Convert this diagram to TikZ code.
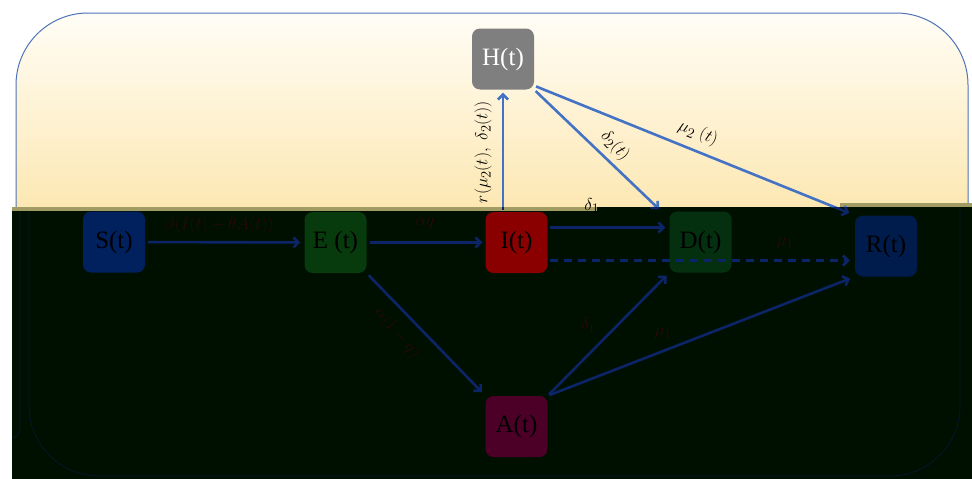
\documentclass[tikz,border=0pt]{standalone}
\usepackage{fontspec}
\setmainfont{Liberation Serif}
\usetikzlibrary{arrows.meta,calc}

\definecolor{panelblue}{HTML}{4F74B8}
\definecolor{creamtop}{HTML}{FFFDF6}
\definecolor{creambot}{HTML}{FDE8B3}
\definecolor{shadebg}{HTML}{001000}
\definecolor{oliveband}{HTML}{A19C64}
\definecolor{flowlight}{HTML}{4472C4}
\definecolor{flowdark}{HTML}{0C2468}
\definecolor{labeldark}{HTML}{2A0808}
\definecolor{boxS}{HTML}{00205E}
\definecolor{boxE}{HTML}{073A0C}
\definecolor{boxI}{HTML}{8A0000}
\definecolor{boxD}{HTML}{04300F}
\definecolor{boxR}{HTML}{001C4C}
\definecolor{boxA}{HTML}{4C0028}
\definecolor{boxH}{HTML}{7F7F7F}
\definecolor{faintline}{HTML}{061630}

\tikzset{
  comp/.style={rounded corners=8pt, minimum width=62pt, minimum height=61pt,
    inner sep=0pt, font=\fontsize{25}{28}\selectfont, text=black},
  flow/.style={line width=2.6pt, -{Straight Barb[length=5pt,width=10pt]}},
  rate/.style={font=\fontsize{17}{20}\selectfont, text=labeldark, inner sep=0pt},
  ratetop/.style={rate, font=\fontsize{19}{22}\selectfont, text=black},
}

\begin{document}
\begin{tikzpicture}[x=1pt,y=1pt]
\useasboundingbox (0,0) rectangle (972,-479);
\fill[white] (0,0) rectangle (972,-479);

% panel with a pale gradient
\begin{scope}
  \clip[rounded corners=72pt] (16,-13) rectangle (968,-476);
  \shade[top color=creamtop, bottom color=creambot] (0,-13) rectangle (972,-207);
\end{scope}
\draw[panelblue, line width=1pt, rounded corners=72pt] (16,-13) rectangle (968,-476);

% dark lower band
\fill[shadebg] (12,-207) rectangle (972,-479);
\fill[oliveband] (12,-207) rectangle (597,-211);
\fill[oliveband] (840,-203) rectangle (972,-207);
\draw[faintline, line width=0.7pt, rounded corners=70pt] (29,-211) -- (29,-476) -- (960,-476) -- (960,-211);
\draw[faintline, line width=0.7pt] (20,-211) -- (20,-428) .. controls (20,-434) and (16,-437) .. (12,-438);

% compartments
\node[comp, fill=boxH, text=white] (H) at (503,-59) {H(t)};
\node[comp, fill=boxS] (S) at (114,-242) {S(t)};
\node[comp, fill=boxE] (E) at (335.5,-242.5) {E (t)};
\node[comp, fill=boxI] (I) at (516.5,-242.5) {I(t)};
\node[comp, fill=boxD] (D) at (700.5,-242) {D(t)};
\node[comp, fill=boxR] (R) at (886,-246) {R(t)};
\node[comp, fill=boxA] (A) at (516.5,-426.5) {A(t)};

% flows through the hospital compartment, drawn light above the band and dark inside it
\foreach \region/\col in {{(0,0) rectangle (972,-207)}/flowlight, {(0,-207) rectangle (972,-479)}/flowdark}{
  \begin{scope}
    \clip \region;
    \draw[flow, \col, shorten <=2pt, shorten >=3pt] (I.north -| H.south) -- (H.south);
    \draw[flow, \col, shorten <=2pt, shorten >=3pt] (H.south east) -- ([xshift=-8pt]D.north west);
    \draw[flow, \col, shorten <=2pt, shorten >=6pt] ([yshift=4pt]H.south east) -- (R.north west);
  \end{scope}
}

% flows inside the band
\draw[flow, flowdark, shorten <=3pt, shorten >=4pt] (S) -- (E);
\draw[flow, flowdark, shorten <=3pt, shorten >=3pt] (E) -- (I);
\draw[flow, flowdark, shorten <=3pt, shorten >=5pt] (E.south east) -- (A.north west);
\draw[flow, flowdark, shorten <=2pt, shorten >=4pt] ([yshift=15pt]I.east) -- ([yshift=15pt]I.east -| D.west);
\draw[flow, flowdark, dash pattern=on 8pt off 6pt, shorten <=2pt, shorten >=5pt]
  ([yshift=-18pt]I.east) -- ([yshift=-18pt]I.east -| R.west);
\draw[flow, flowdark, shorten <=2pt, shorten >=4pt] (A.north east) -- (D.south west);
\draw[flow, flowdark, shorten <=2pt, shorten >=5pt] (A.north east) -- (R.south west);

% rates
\node[rate] (lSE) at (219,-225) {$\beta(I(t)+\theta A(t))$};
\node[rate] (lEI) at (425,-223) {$\alpha q$};
\node[rate, rotate=-50] (lEA) at (397,-333) {$\alpha(1-q)$};
\node[ratetop, rotate=90] (lIH) at (483,-152) {$r(\mu_2(t),\ \delta_2(t))$};
\node[ratetop, rotate=-47] (lHD) at (615,-146) {$\delta_2(t)$};
\node[ratetop, rotate=-21.5] (lHR) at (698,-133) {$\mu_2\ (t)$};
\node[ratetop] (lID) at (592,-206) {$\delta_1$};
\node[rate] (lIR) at (785,-243) {$\mu_1$};
\node[rate] (lAD) at (588,-325) {$\delta_1$};
\node[rate] (lAR) at (663,-333) {$\mu_1$};
\end{tikzpicture}
\end{document}
